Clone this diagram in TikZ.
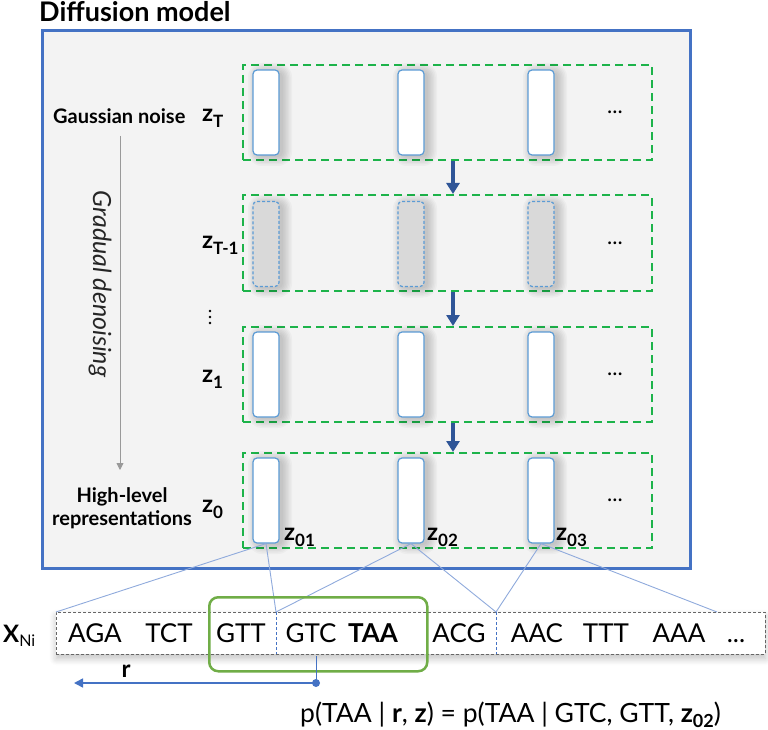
\documentclass[tikz,border=0pt]{standalone}
\usepackage{fontspec}
\setmainfont{Lato}
\usetikzlibrary{arrows.meta,shadows.blur}
\definecolor{outerblue}{HTML}{4472C4}
\definecolor{bgray}{HTML}{F3F3F3}
\definecolor{dgreen}{HTML}{1DB34A}
\definecolor{rectblue}{HTML}{5B9BD5}
\definecolor{darrow}{HTML}{2F5597}
\definecolor{conn}{HTML}{8FAADC}
\definecolor{okgreen}{HTML}{70AD47}
\definecolor{shade}{HTML}{D9D9D9}
\tikzset{
  rowbox/.style={draw=dgreen,line width=2pt,dash pattern=on 8pt off 5pt,minimum width=409pt,minimum height=95pt,inner sep=0pt},
  vrect/.style={draw=rectblue,line width=1.2pt,fill=white,rounded corners=4pt,minimum width=26pt,minimum height=85pt,inner sep=0pt},
  vrectd/.style={vrect,fill=shade,densely dashed},
  softshadow/.style={fill=black,opacity=0.028},
  steparrow/.style={draw=darrow,line width=4pt,-{Triangle[width=13pt,length=11pt]}},
  conline/.style={draw=conn,line width=0.9pt},
  zlab/.style={font=\fontsize{24}{26}\selectfont\bfseries,inner sep=0pt},
  lab/.style={font=\fontsize{20}{24}\selectfont\bfseries,inner sep=0pt},
  tok/.style={font=\fontsize{26}{28}\selectfont,inner sep=0pt,anchor=base},
  dots/.style={font=\fontsize{22}{24}\selectfont,inner sep=0pt},
  vdot/.style={fill=black}
}
\newcommand{\zsub}[1]{z\raisebox{-0.25em}{\fontsize{17}{18}\selectfont #1}}
\begin{document}
\begin{tikzpicture}[x=1pt,y=-1pt]
\useasboundingbox (0,0) rectangle (768,730);
% title
\node[anchor=base west,inner sep=0pt,font=\fontsize{27}{30}\selectfont\bfseries] (title) at (39,22) {Diffusion model};
% outer box
\node[draw=outerblue,line width=2.8pt,fill=bgray,minimum width=648pt,minimum height=538pt,inner sep=0pt,anchor=north west] (outer) at (41,29) {};
% green row boxes
\node[rowbox] (row1) at (447.5,112.5) {};
\node[rowbox] (row2) at (447.5,243) {};
\node[rowbox] (row3) at (447.5,374.5) {};
\node[rowbox] (row4) at (447.5,500.5) {};
% soft shadows
\foreach \x in {266,411,541}{
  \foreach \y in {112.5,244,374.5,500.5}{
    \foreach \k in {0,1.5,...,9}{
      \fill[softshadow,rounded corners=5pt+\k pt] (\x-13-\k+4,\y-42.5-\k+2) rectangle (\x+13+\k+4,\y+42.5+\k+2);
    }
  }
}
% rects
\foreach \c/\x in {1/266,2/411,3/541}{
  \node[vrect] (r1\c) at (\x,112.5) {};
  \node[vrectd] (r2\c) at (\x,244) {};
  \node[vrect] (r3\c) at (\x,374.5) {};
  \node[vrect] (r4\c) at (\x,500.5) {};
}
% dots
\node[dots] (d1) at (615,112) {...};
\node[dots] (d2) at (615,243) {...};
\node[dots] (d3) at (615,374) {...};
\node[dots] (d4) at (615,500) {...};
% step arrows
\draw[steparrow] (453,161) -- (453,194);
\draw[steparrow] (453,292) -- (453,326);
\draw[steparrow] (453,423) -- (453,452);
% left labels
\node[lab,anchor=base west] (gauss) at (53,124) {Gaussian noise};
\node[zlab,anchor=base west] (zT) at (202,122) {\zsub{T}};
\node[zlab,anchor=base west] (zT1) at (202,248) {\zsub{T-1}};
\fill[vdot] (210,311) circle (1.4pt);
\fill[vdot] (210,317) circle (1.4pt);
\fill[vdot] (210,323) circle (1.4pt);
\node[zlab,anchor=base west] (z1) at (202,382) {\zsub{1}};
\node[zlab,anchor=base west] (z0) at (202,512) {\zsub{0}};
\node[lab,align=center,font=\fontsize{20}{23}\selectfont\bfseries] (hl) at (122,508) {High-level\\representations};
% gray arrow and rotated label
\coordinate (ga) at (120,136);
\coordinate (gb) at (120,470);
\draw[draw=gray!80,line width=0.8pt,-{Triangle[width=7pt,length=7pt]}] (ga) -- (gb);
\node[rotate=-90,inner sep=0pt,font=\fontsize{25}{28}\selectfont\itshape,text=black!85] (grad) at (100,284) {Gradual denoising};
% z0x labels
\node[zlab,anchor=base west] (z01) at (284,540) {\zsub{01}};
\node[zlab,anchor=base west] (z02) at (427,540) {\zsub{02}};
\node[zlab,anchor=base west] (z03) at (556,540) {\zsub{03}};
% sequence box
\node[draw=gray!80!black,densely dashed,line width=0.8pt,fill=white,minimum width=709pt,minimum height=42pt,inner sep=0pt,anchor=north west,
  blur shadow={shadow blur steps=10,shadow xshift=0pt,shadow yshift=-4pt,shadow opacity=25,shadow blur radius=7pt}] (seq) at (56,612) {};
\coordinate (s0) at (56,612);
\coordinate (s1) at (276,612);
\coordinate (s2) at (496,612);
\coordinate (s3) at (717,612);
\coordinate (s1b) at (276,654);
\coordinate (s2b) at (496,654);
\draw[draw=outerblue,densely dashed,line width=0.9pt] (s1) -- (s1b);
\draw[draw=outerblue,densely dashed,line width=0.9pt] (s2) -- (s2b);
% connectors
\draw[conline] (r41.south) -- (s0);
\draw[conline] (r41.south) -- (s1);
\draw[conline] (r42.south) -- (s1);
\draw[conline] (r42.south) -- (s2);
\draw[conline] (r43.south) -- (s2);
\draw[conline] (r43.south) -- (s3);
% tokens
\node[tok] (t1) at (95,642) {AGA};
\node[tok] (t2) at (169,642) {TCT};
\node[tok] (t3) at (241,642) {GTT};
\node[tok] (t4) at (311,642) {GTC};
\node[tok,font=\fontsize{26}{28}\selectfont\bfseries] (t5) at (373,642) {TAA};
\node[tok] (t6) at (459,642) {ACG};
\node[tok] (t7) at (537,642) {AAC};
\node[tok] (t8) at (606,642) {TTT};
\node[tok] (t9) at (679,642) {AAA};
\node[tok] (t10) at (736,642) {...};
% green window
\node[draw=okgreen,line width=2.5pt,rounded corners=9pt,minimum width=218pt,minimum height=74pt,inner sep=0pt,anchor=north west] (win) at (208,596) {};
% X_Ni
\node[inner sep=0pt,anchor=base west] (xni) at (3,642) {\fontsize{24}{26}\selectfont\bfseries X\raisebox{-0.2em}{\fontsize{16}{17}\selectfont\mdseries Ni}};
% r arrow
\coordinate (rdot) at (316,683);
\coordinate (rtop) at (316,656);
\coordinate (rend) at (74,683);
\draw[draw=outerblue,line width=1pt] (rtop) -- (rdot);
\draw[draw=outerblue,line width=1.6pt,-{Triangle[width=9pt,length=9pt]}] (rdot) -- (rend);
\fill[outerblue] (rdot) circle (4pt);
\node[inner sep=0pt,anchor=base,font=\fontsize{24}{26}\selectfont\bfseries] (rl) at (126,677) {r};
% equation
\node[inner sep=0pt,anchor=base west,font=\fontsize{26.5}{28}\selectfont] (eq) at (300,722) {p(TAA | \textbf{r}, \textbf{z}) = p(TAA | GTC, GTT, \textbf{z\raisebox{-0.2em}{\fontsize{18}{19}\selectfont 02}})};
\end{tikzpicture}
\end{document}
